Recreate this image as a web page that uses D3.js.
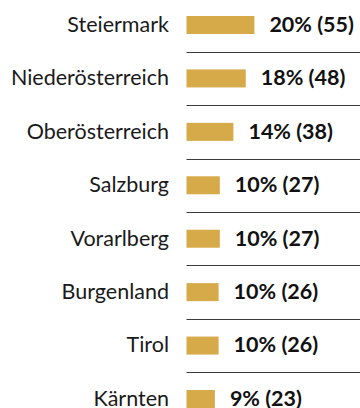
<!DOCTYPE html>
<html>
<head>
<meta charset="utf-8">
<script src="https://cdn.jsdelivr.net/npm/d3@7"></script>
<style>
  html, body { margin: 0; padding: 0; background: #fff; }
  svg { display: block; }
</style>
</head>
<body>
<script>
// Bundesländer, ranked by number of responses
const regions = ["Steiermark", "Niederösterreich", "Oberösterreich", "Salzburg",
                 "Vorarlberg", "Burgenland", "Tirol", "Kärnten"];
const counts = [55, 48, 38, 27, 27, 26, 26, 23];
const shares = [20, 18, 14, 10, 10, 10, 10, 9];

const width = 360, height = 408;
const rows = regions.map((r, i) => ({ region: r, count: counts[i], share: shares[i] }));

const svg = d3.select("body").append("svg")
  .attr("width", width).attr("height", height);

const y = d3.scalePoint().domain(regions).range([25, 399]);
const step = y.step();
const x = d3.scaleLinear().domain([0, 55]).range([186.5, 254.4]);
const barH = 18;

const font = "Lato, 'Open Sans', sans-serif";
const fontSize = 21.5;

// separators between rows
svg.append("g").selectAll("line")
  .data(rows.slice(0, -1))
  .join("line")
  .attr("x1", x(0)).attr("x2", width)
  .attr("y1", d => Math.round(y(d.region) + step / 2) + 0.5)
  .attr("y2", d => Math.round(y(d.region) + step / 2) + 0.5)
  .attr("stroke", "#3a3a3a").attr("stroke-width", 1);

// bars
svg.append("g").selectAll("rect")
  .data(rows)
  .join("rect")
  .attr("x", x(0))
  .attr("y", d => y(d.region) - barH / 2)
  .attr("width", d => x(d.count) - x(0))
  .attr("height", barH)
  .attr("fill", "#d6aa48");

// region names
svg.append("g").selectAll("text")
  .data(rows)
  .join("text")
  .attr("x", 169)
  .attr("y", d => y(d.region) + 6.8)
  .attr("text-anchor", "end")
  .attr("font-family", font)
  .attr("font-size", fontSize)
  .attr("fill", "#1a1a1a")
  .text(d => d.region);

// value labels
svg.append("g").selectAll("text")
  .data(rows)
  .join("text")
  .attr("x", d => x(d.count) + 15)
  .attr("y", d => y(d.region) + 6.8)
  .attr("font-family", font)
  .attr("font-size", fontSize)
  .attr("font-weight", 700)
  .attr("fill", "#111")
  .text(d => `${d.share}% (${d.count})`);
</script>
</body>
</html>
